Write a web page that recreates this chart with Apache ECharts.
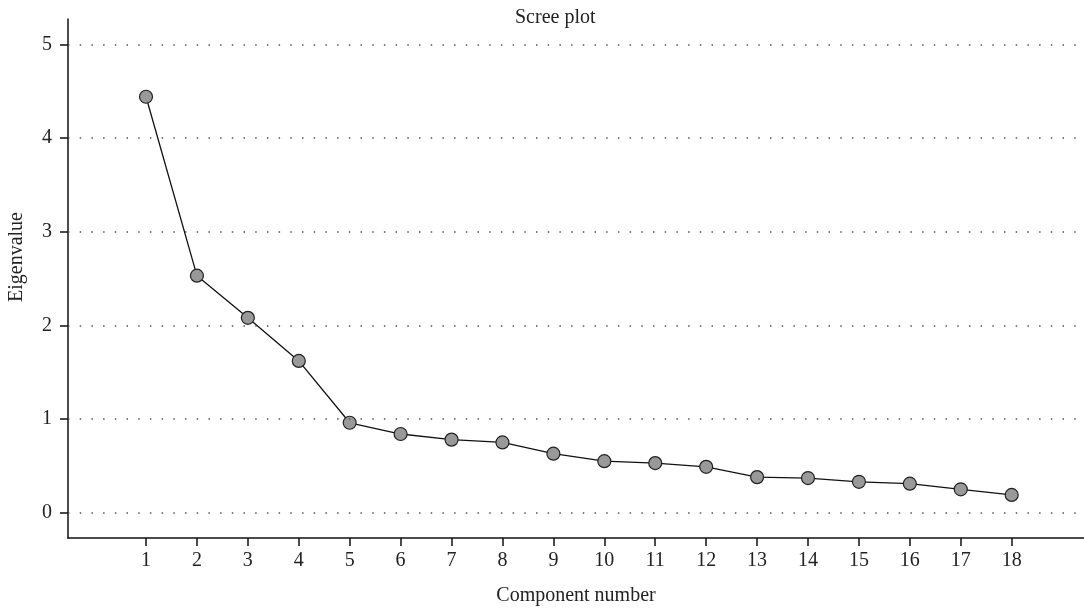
<!DOCTYPE html>
<html>
<head>
<meta charset="utf-8">
<script src="https://cdn.jsdelivr.net/npm/echarts@6/dist/echarts.min.js"></script>
<style>html,body{margin:0;padding:0;background:#fff}#c{width:1084px;height:612px}</style>
</head>
<body>
<div id="c"></div>
<script>
const components = [1,2,3,4,5,6,7,8,9,10,11,12,13,14,15,16,17,18];
const eigenvalues = [4.44,2.53,2.08,1.62,0.96,0.84,0.78,0.75,0.63,0.55,0.53,0.49,0.38,0.37,0.33,0.31,0.25,0.19];
const yTicks = [0,1,2,3,4,5];
const FONT = '"Liberation Serif", "DejaVu Serif", serif';

const chart = echarts.init(document.getElementById('c'), null, {renderer:'canvas'});
chart.setOption({
  backgroundColor:'#fff',
  animation:false,
  title:{text:'Scree plot', left:510, top:3, textStyle:{fontFamily:FONT, fontSize:20, fontWeight:'normal', color:'#222'}},
  grid:{left:68, right:0, top:19, bottom:74},
  xAxis:{
    type:'value', min:-0.532, max:19.42,
    name:'Component number', nameLocation:'middle', nameGap:48,
    nameTextStyle:{fontFamily:FONT, fontSize:20, color:'#222'},
    axisLine:{show:true, onZero:false, lineStyle:{color:'#111', width:1.5}},
    axisTick:{show:true, length:8, customValues:components, lineStyle:{color:'#111', width:1.5}},
    axisLabel:{customValues:components, margin:13, fontFamily:FONT, fontSize:20, color:'#222'},
    splitLine:{show:false}
  },
  yAxis:{
    type:'value', min:-0.27, max:5.27,
    axisLine:{show:true, onZero:false, lineStyle:{color:'#111', width:1.5}},
    axisTick:{show:true, length:8, customValues:yTicks, lineStyle:{color:'#111', width:1.5}},
    axisLabel:{customValues:yTicks, margin:16, fontFamily:FONT, fontSize:20, color:'#222'},
    splitLine:{show:false}
  },
  graphic:[{type:'text', left:7, top:212, rotation:Math.PI/2,
    style:{text:'Eigenvalue', font:'20px "Liberation Serif", serif', fill:'#222'}}],
  series:[{
    type:'line', data:components.map((c,i)=>[c, eigenvalues[i]]),
    lineStyle:{color:'#111', width:1.3},
    symbol:'circle', symbolSize:13,
    itemStyle:{color:'#999', borderColor:'#222', borderWidth:1.2},
    markLine:{silent:true, symbol:['none','none'], label:{show:false},
      lineStyle:{type:[1.5,10.2], color:'#555', width:1.5},
      data:yTicks.map(v=>({yAxis:v}))},
    z:3
  }]
});
</script>
</body>
</html>
